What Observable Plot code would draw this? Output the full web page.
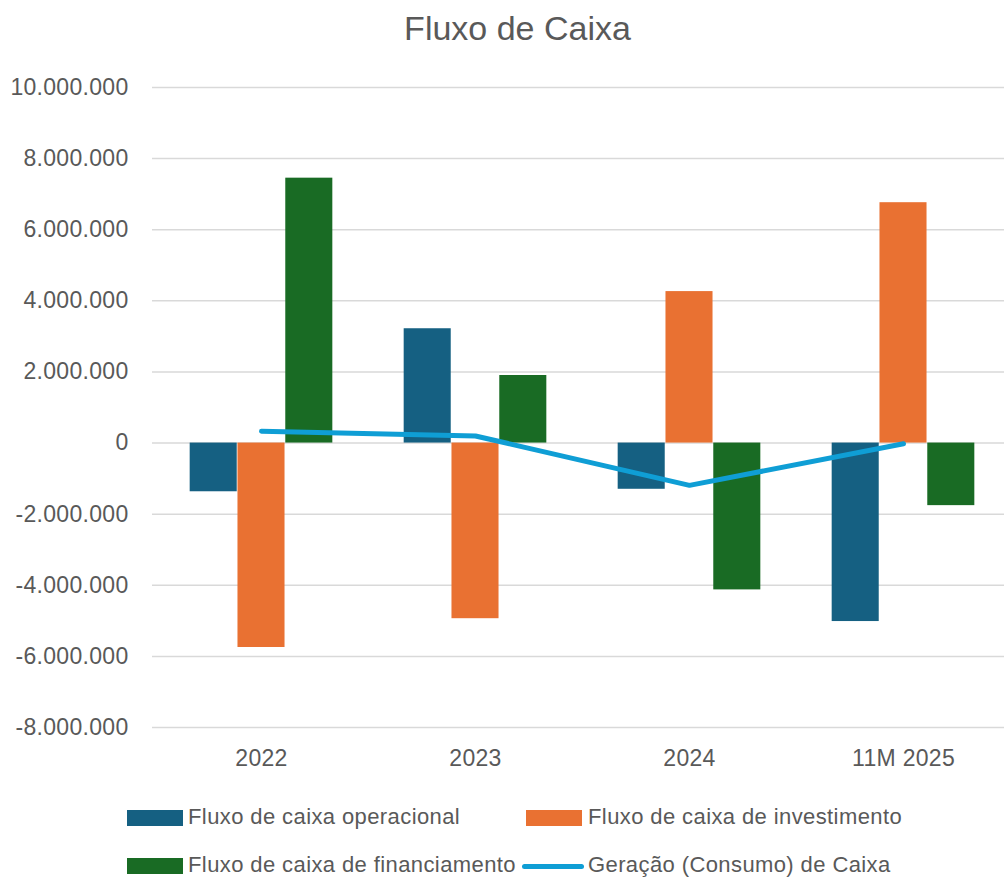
<!DOCTYPE html>
<html>
<head>
<meta charset="utf-8">
<script src="https://cdn.jsdelivr.net/npm/d3@7"></script>
<script src="https://cdn.jsdelivr.net/npm/@observablehq/plot@0.6"></script>
<style>
  html, body { margin: 0; padding: 0; background: #fff; overflow: hidden; }
  #wrap { position: relative; width: 1004px; height: 877px; overflow: hidden; font-family: "Liberation Sans", Arial, sans-serif; color: #595959; }
  #title { position: absolute; left: 0; width: 1035px; top: 11px; text-align: center; font-size: 34px; line-height: 34px; color: #595959; }
  #chart { position: absolute; left: 0; top: 60px; }
  .leg { position: absolute; font-size: 22px; letter-spacing: 0.4px; line-height: 22px; color: #595959; white-space: nowrap; }
  .sw { position: absolute; }
</style>
</head>
<body>
<div id="wrap">
  <div id="title">Fluxo de Caixa</div>
  <div id="chart"></div>
  <div id="legend"></div>
</div>
<script>
const years = ["2022", "2023", "2024", "11M 2025"];
const operacional = [-1370000, 3215000, -1300000, -5020000];
const investimento = [-5750000, -4940000, 4260000, 6760000];
const financiamento = [7450000, 1900000, -4130000, -1760000];
const geracao = [330000, 200000, -1190000, -20000];
const yTicks = [-8000000, -6000000, -4000000, -2000000, 0, 2000000, 4000000, 6000000, 8000000, 10000000];
const seriesNames = ["Fluxo de caixa operacional", "Fluxo de caixa de investimento", "Fluxo de caixa de financiamento", "Geração (Consumo) de Caixa"];
const colors = ["#156082", "#E97132", "#196B24", "#0F9ED5"];

const ptBR = d3.formatLocale({decimal: ",", thousands: ".", grouping: [3], currency: ["R$", ""], minus: "-"});
const fmt = ptBR.format(",d");

const rows = years.map((y, i) => ({year: y, op: operacional[i], inv: investimento[i], fin: financiamento[i], net: geracao[i]}));

const W = 1011, marginLeft = 152, marginRight = 0;
const bw = (W - marginLeft - marginRight) / years.length;
const barW = 47.8;
const gap = (bw - 3 * barW) / 2;

const chart = Plot.plot({
  width: W,
  height: 725,
  marginTop: 27,
  marginBottom: 58,
  marginLeft,
  marginRight,
  style: {fontFamily: "'Liberation Sans', Arial, sans-serif", fontSize: "23px", color: "#595959", background: "transparent", overflow: "visible", maxWidth: "none"},
  x: {domain: years, padding: 0, label: null, tickSize: 0, tickPadding: 22},
  y: {domain: [-8000000, 10000000], ticks: yTicks, tickFormat: fmt, label: null, tickSize: 0, tickPadding: 24},
  marks: [
    Plot.ruleY(yTicks, {stroke: "#d9d9d9", strokeWidth: 1.5}),
    Plot.barY(rows, {x: "year", y1: 0, y2: "op", fill: colors[0], insetLeft: gap, insetRight: bw - gap - barW}),
    Plot.barY(rows, {x: "year", y1: 0, y2: "inv", fill: colors[1], insetLeft: gap + barW, insetRight: gap + barW}),
    Plot.barY(rows, {x: "year", y1: 0, y2: "fin", fill: colors[2], insetLeft: bw - gap - barW, insetRight: gap}),
    Plot.line(rows, {x: "year", y: "net", stroke: colors[3], strokeWidth: 5, strokeLinecap: "round", strokeLinejoin: "round"})
  ]
});
chart.style.maxWidth = "none";
chart.querySelectorAll("text").forEach(t => { t.style.letterSpacing = "0.3px"; });
document.getElementById("chart").appendChild(chart);

// legend
const legendItems = [
  {name: seriesNames[0], color: colors[0], type: "rect", x: 127, y: 818, tx: 188},
  {name: seriesNames[1], color: colors[1], type: "rect", x: 526, y: 818, tx: 588},
  {name: seriesNames[2], color: colors[2], type: "rect", x: 127, y: 866, tx: 188},
  {name: seriesNames[3], color: colors[3], type: "line", x: 522, y: 866, tx: 588}
];
const leg = document.getElementById("legend");
legendItems.forEach(it => {
  const sw = document.createElement("div");
  sw.className = "sw";
  if (it.type === "rect") {
    sw.style.cssText = `left:${it.x}px;top:${it.y - 8}px;width:56px;height:16px;background:${it.color};`;
  } else {
    sw.style.cssText = `left:${it.x}px;top:${it.y - 2.5}px;width:62px;height:5px;border-radius:3px;background:${it.color};`;
  }
  leg.appendChild(sw);
  const t = document.createElement("div");
  t.className = "leg";
  t.textContent = it.name;
  t.style.left = it.tx + "px";
  t.style.top = (it.y - 12) + "px";
  leg.appendChild(t);
});
</script>
</body>
</html>
